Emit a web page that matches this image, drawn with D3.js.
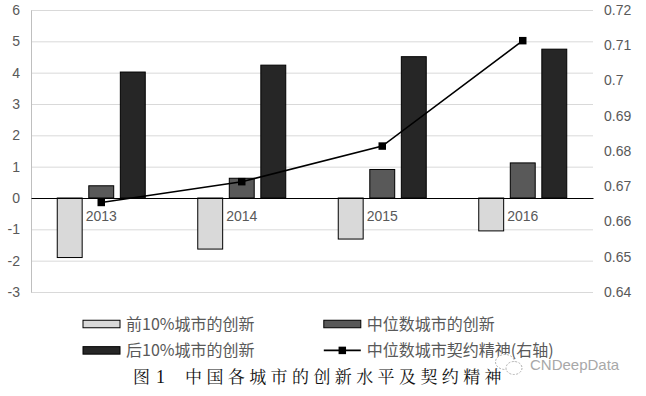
<!DOCTYPE html>
<html>
<head>
<meta charset="utf-8">
<script src="https://cdn.jsdelivr.net/npm/d3@7"></script>
<style>
  body { margin: 0; background: #fff; }
  text { font-family: "Liberation Sans", Arial, sans-serif; }
  .cjk { font-family: "Noto Sans CJK SC", sans-serif; }
</style>
</head>
<body>
<div id="chart"></div>
<script>
// data
const years = ['2013', '2014', '2015', '2016'];
const top10 = [-1.90, -1.63, -1.31, -1.05];
const median = [0.39, 0.63, 0.91, 1.12];
const bottom10 = [4.02, 4.24, 4.51, 4.75];
const contract = [0.6654, 0.6713, 0.6814, 0.7113];
const leftTicks = [-3, -2, -1, 0, 1, 2, 3, 4, 5, 6];
const rightTicks = [0.64, 0.65, 0.66, 0.67, 0.68, 0.69, 0.70, 0.71, 0.72];
const barNames = ['前10%城市的创新', '中位数城市的创新', '后10%城市的创新'];
const lineName = '中位数城市契约精神(右轴)';
const caption = '中国各城市的创新水平及契约精神';

(function() {
  const W = 646, H = 396;
  const plot = { left: 31, right: 593, top: 10, bottom: 292 };
  const barColors = ['#d9d9d9', '#595959', '#262626'];
  const textColor = '#595959';

  const svg = d3.select('#chart').append('svg')
      .attr('width', W)
      .attr('height', H);

  const x = d3.scaleBand().domain(years).range([plot.left, plot.right]);
  const xSub = d3.scaleBand().domain(barNames)
      .range([26.25, 114.25])
      .paddingInner(0.21);
  const yL = d3.scaleLinear([-3, 6], [plot.bottom, plot.top]);
  const yR = d3.scaleLinear([0.64, 0.72], [plot.bottom, plot.top]);

  // gridlines
  const grid = svg.append('g')
      .attr('transform', `translate(${plot.left},0)`)
      .call(d3.axisLeft(yL).tickValues(leftTicks)
        .tickSize(-(plot.right - plot.left)).tickFormat(''));
  grid.select('.domain').remove();
  grid.selectAll('line').attr('stroke', '#d9d9d9');

  // left axis
  const leftAxis = svg.append('g')
      .attr('transform', `translate(${plot.left},0)`)
      .call(d3.axisLeft(yL).tickValues(leftTicks).tickSize(0).tickSizeOuter(0).tickPadding(11)
        .tickFormat(d => String(d)));
  leftAxis.select('.domain').attr('stroke', '#bfbfbf');
  leftAxis.selectAll('text').attr('fill', textColor).style('font-size', '14px');

  // right axis
  const rightAxis = svg.append('g')
      .attr('transform', `translate(${plot.right},0)`)
      .call(d3.axisRight(yR).tickValues(rightTicks).tickSize(0).tickPadding(11)
        .tickFormat(d => String(+d.toFixed(2))));
  rightAxis.select('.domain').remove();
  rightAxis.selectAll('text').attr('fill', textColor).style('font-size', '14px');

  // bars
  const series = [top10, median, bottom10];
  const groups = svg.append('g').selectAll('g')
      .data(years)
      .join('g')
      .attr('transform', d => `translate(${x(d)},0)`);
  groups.selectAll('rect')
      .data((d, i) => barNames.map((name, k) => ({ name, k, v: series[k][i] })))
      .join('rect')
      .attr('x', d => xSub(d.name))
      .attr('width', xSub.bandwidth())
      .attr('y', d => Math.min(yL(d.v), yL(0)))
      .attr('height', d => Math.abs(yL(d.v) - yL(0)))
      .attr('fill', d => barColors[d.k])
      .attr('stroke', '#000')
      .attr('stroke-width', 1);

  // zero axis with year labels
  const xAxis = svg.append('g')
      .attr('transform', `translate(0,${yL(0)})`)
      .call(d3.axisBottom(x).tickSize(0).tickSizeOuter(0).tickPadding(13.5));
  xAxis.select('.domain').attr('stroke', '#000');
  xAxis.selectAll('text').attr('fill', textColor).style('font-size', '14px');

  // line on right axis
  const line = d3.line()
      .x((d, i) => x(years[i]) + x.bandwidth() / 2)
      .y(d => yR(d));
  svg.append('path')
      .datum(contract)
      .attr('d', line)
      .attr('fill', 'none')
      .attr('stroke', '#000')
      .attr('stroke-width', 1.6);
  svg.append('g').selectAll('path')
      .data(contract)
      .join('path')
      .attr('d', d3.symbol(d3.symbolSquare, 56))
      .attr('transform', (d, i) => `translate(${x(years[i]) + x.bandwidth() / 2},${yR(d)})`)
      .attr('fill', '#000');

  // legend
  const legend = svg.append('g');
  const legendPos = [[83, 324], [323.8, 324], [83, 350.4]];
  barNames.forEach((name, k) => {
    const [lx, ly] = legendPos[k];
    legend.append('rect')
        .attr('x', lx).attr('y', ly - 3.75)
        .attr('width', 37).attr('height', 7.5)
        .attr('fill', barColors[k])
        .attr('stroke', '#000');
    legend.append('text')
        .attr('class', 'cjk')
        .attr('x', lx + 43).attr('y', ly)
        .attr('dy', '0.35em')
        .attr('fill', textColor)
        .style('font-size', '16px')
        .text(name);
  });
  legend.append('line')
      .attr('x1', 323.8).attr('x2', 360.8)
      .attr('y1', 350.4).attr('y2', 350.4)
      .attr('stroke', '#000').attr('stroke-width', 1.6);
  legend.append('path')
      .attr('d', d3.symbol(d3.symbolSquare, 56))
      .attr('transform', 'translate(342.3,350.4)')
      .attr('fill', '#000');
  legend.append('text')
      .attr('class', 'cjk')
      .attr('x', 366.8).attr('y', 350.4)
      .attr('dy', '0.35em')
      .attr('fill', textColor)
      .style('font-size', '16px')
      .text(lineName);

  // caption
  svg.append('text')
      .attr('x', 133).attr('y', 383)
      .style('font-family', '"Noto Serif CJK SC", "Noto Sans CJK SC", serif')
      .style('font-size', '17px')
      .attr('fill', '#111')
      .text('图');
  svg.append('text')
      .attr('x', 156).attr('y', 383)
      .style('font-family', '"Liberation Serif", serif')
      .style('font-size', '18px')
      .attr('fill', '#111')
      .text('1');
  svg.append('text')
      .attr('x', 185).attr('y', 383)
      .style('font-family', '"Noto Serif CJK SC", "Noto Sans CJK SC", serif')
      .style('font-size', '17px')
      .style('letter-spacing', '4.4px')
      .attr('fill', '#111')
      .text(caption);

  // watermark
  const wm = svg.append('g').attr('fill', '#fff').attr('stroke', '#b0b0b0').attr('stroke-width', 1);
  wm.append('ellipse').attr('cx', 505).attr('cy', 362).attr('rx', 9.5).attr('ry', 7.5)
      .attr('stroke-dasharray', '2,1.5');
  wm.append('ellipse').attr('cx', 514).attr('cy', 368).attr('rx', 8).attr('ry', 6.5)
      .attr('stroke-dasharray', '2,1.5');
  svg.append('text')
      .attr('x', 530).attr('y', 365)
      .attr('dy', '0.35em')
      .attr('fill', '#a8a8a8')
      .style('font-size', '15px')
      .text('CNDeepData');
})();
</script>
</body>
</html>
